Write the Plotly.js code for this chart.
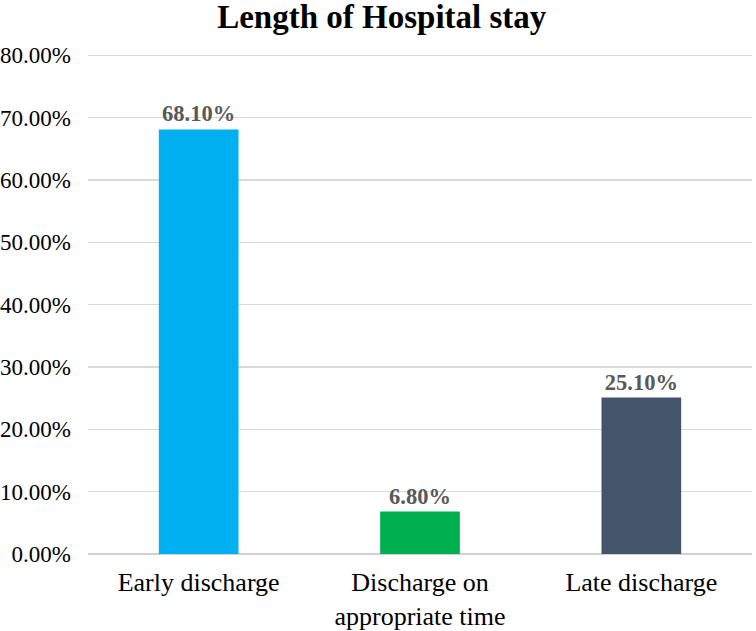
<!DOCTYPE html>
<html>
<head>
<meta charset="utf-8">
<script src="https://cdn.plot.ly/plotly-3.0.1.min.js"></script>
<style>
  body { margin: 0; background: #fff; }
  #chart { width: 756px; height: 631px; }
</style>
</head>
<body>
<div id="chart"></div>
<script>
const categories = ['Early discharge', 'Discharge on<br>appropriate time', 'Late discharge'];
const values = [0.681, 0.068, 0.251];
const colors = ['#00B0F0', '#00B050', '#44546A'];
const tickVals = [0, 0.1, 0.2, 0.3, 0.4, 0.5, 0.6, 0.7, 0.8];

const serif = 'Liberation Serif, Times New Roman, serif';

const trace = [{
    type: 'bar',
    x: categories,
    y: values,
    marker: { color: colors },
    text: values.map(v => (v * 100).toFixed(2) + '%'),
    textposition: 'outside',
    cliponaxis: false,
    textfont: { family: serif, size: 22.5, color: '#595959', weight: 'bold' },
    hoverinfo: 'none'
}];

const layout = {
    width: 756,
    height: 631,
    margin: { l: 88, r: 4, t: 54, b: 77 },
    paper_bgcolor: '#fff',
    plot_bgcolor: '#fff',
    showlegend: false,
    bargap: 0.64,
    title: {
        text: '<b>Length of Hospital stay</b>',
        font: { family: serif, size: 33, color: '#000' },
        x: 0.505, xanchor: 'center',
        y: 0.974, yanchor: 'middle'
    },
    xaxis: {
        tickfont: { family: serif, size: 26, color: '#000' },
        showline: false,
        ticks: '',
        ticklabelstandoff: 10,
        fixedrange: true
    },
    yaxis: {
        range: [0, 0.802],
        tickvals: tickVals,
        ticktext: tickVals.map(v => (v * 100).toFixed(2) + '%'),
        tickfont: { family: serif, size: 23, color: '#000' },
        gridcolor: '#d9d9d9',
        gridwidth: 1.5,
        zeroline: true,
        zerolinecolor: '#d0d0d0',
        zerolinewidth: 1.5,
        ticks: '',
        ticklabelstandoff: 16,
        fixedrange: true
    }
};

Plotly.newPlot('chart', trace, layout, { displayModeBar: false, staticPlot: true });
</script>
</body>
</html>
